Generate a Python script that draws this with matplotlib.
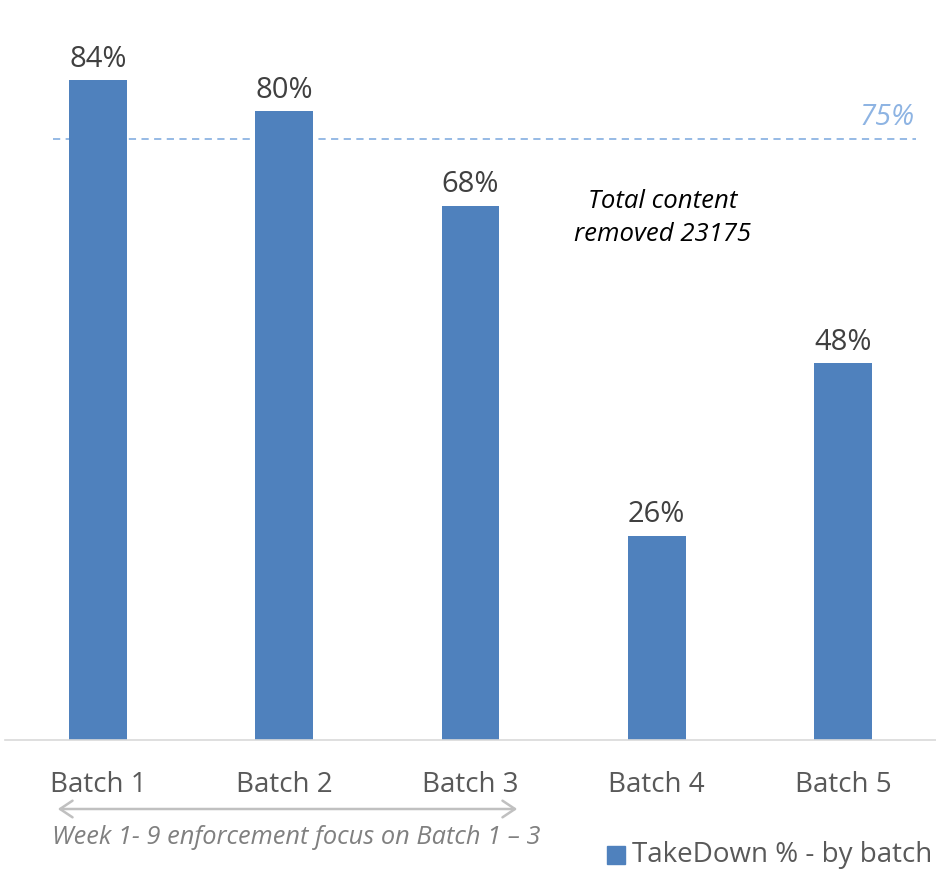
import matplotlib
matplotlib.use("Agg")
from matplotlib import pyplot as plt
from matplotlib.patches import Rectangle, FancyArrowPatch

batches = ['Batch 1', 'Batch 2', 'Batch 3', 'Batch 4', 'Batch 5']
takedown = [84, 80, 68, 26, 48]
target_label = '75%'
target_pos = 76.5
series_name = 'TakeDown % - by batch'
note = 'Total content\nremoved 23175'
focus_note = 'Week 1- 9 enforcement focus on Batch 1 \u2013 3'

plt.rcParams['font.family'] = ['Open Sans', 'DejaVu Sans']

W, H = 936, 873
fig = plt.figure(figsize=(W / 100, H / 100), dpi=100)
ax = fig.add_axes([5 / W, 1 - 740 / H, 931 / W, 740 / H])

bar_color = '#4f81bd'
x = range(len(batches))
ax.bar(x, takedown, width=0.31, color=bar_color, zorder=2)
for i, v in enumerate(takedown):
    ax.text(i, v + 0.8, f'{v}%', ha='center', va='bottom', fontsize=21, color='#404040')

ax.set_xlim(-0.5, 4.5)
ax.set_ylim(0, 740 / (660 / 84))

# target line
ax.plot([-0.24, 4.39], [target_pos, target_pos], ls=(0, (4, 3)), color='#8eb4e3', lw=1.3, zorder=1)
ax.text(4.385, target_pos + 0.9, target_label, ha='right', va='bottom', fontsize=21,
        style='italic', color='#8eb4e3')

ax.text(3.03, 66.4, note, ha='center', va='center', fontsize=18.5, style='italic',
        color='black', linespacing=1.4)

for s in ['top', 'right', 'left']:
    ax.spines[s].set_visible(False)
ax.spines['bottom'].set_color('#d9d9d9')
ax.spines['bottom'].set_linewidth(1.2)
ax.set_yticks([])
ax.set_xticks(list(x))
ax.set_xticklabels(batches, fontsize=20, color='#595959')
ax.tick_params(axis='x', length=0, pad=22)

# focus arrow and note below the axis
fig.patches.append(FancyArrowPatch(
    (55 / W, 1 - 809 / H), (520 / W, 1 - 809 / H), transform=fig.transFigure,
    arrowstyle='<->,head_length=9,head_width=6', color='#c0c0c0', lw=1.8,
    mutation_scale=1))
fig.text(296 / W, 1 - 837 / H, focus_note, ha='center', va='center', fontsize=18.3,
         style='italic', color='#808080')

# legend
fig.patches.append(Rectangle((607 / W, 1 - 864 / H), 18 / W, 18 / H,
                             transform=fig.transFigure, color=bar_color))
fig.text(632 / W, 1 - 855 / H, series_name, ha='left', va='center', fontsize=20,
         color='#595959')

fig.savefig('out.png', dpi=100)
